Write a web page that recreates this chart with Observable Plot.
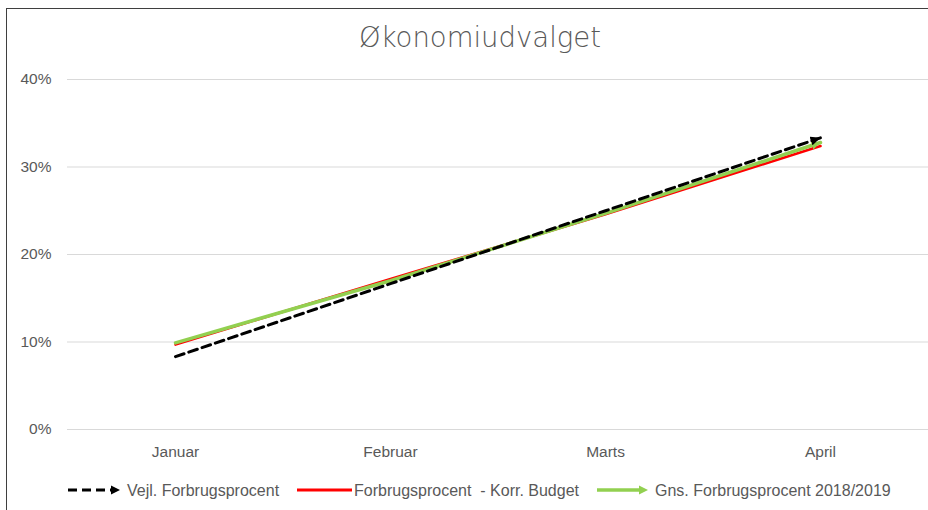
<!DOCTYPE html>
<html>
<head>
<meta charset="utf-8">
<script src="https://cdn.jsdelivr.net/npm/d3@7"></script>
<script src="https://cdn.jsdelivr.net/npm/@observablehq/plot@0.6"></script>
<style>
html, body { margin: 0; padding: 0; background: #fff; width: 928px; height: 510px; overflow: hidden; }
#frame { position: absolute; left: 6px; top: 8px; width: 960px; height: 540px; border: 1.5px solid #3f3f3f; box-sizing: border-box; }
#title { position: absolute; left: 32px; width: 896px; top: 24px; text-align: center;
  font-family: "DejaVu Sans ExtraLight", "DejaVu Sans", sans-serif; font-weight: 200;
  font-size: 27.5px; line-height: 27.5px; color: #595959; white-space: nowrap; }
#chart { position: absolute; left: 0; top: 60px; }
#legend { position: absolute; left: 0; top: 470px; }
</style>
</head>
<body>
<div id="frame"></div>
<div id="title">Økonomiudvalget</div>
<div id="chart"></div>
<svg id="legend" width="928" height="40"></svg>
<script>
// ---- data ----
const months = ["Januar", "Februar", "Marts", "April"];
const vejl = [0.0833, 0.1667, 0.25, 0.3333];   // Vejl. Forbrugsprocent
const korr = [0.097, 0.172, 0.246, 0.324];     // Forbrugsprocent - Korr. Budget
const gns = [0.099, 0.170, 0.247, 0.328];      // Gns. Forbrugsprocent 2018/2019
const seriesNames = ["Vejl. Forbrugsprocent", "Forbrugsprocent  - Korr. Budget", "Gns. Forbrugsprocent 2018/2019"];
const yTicks = [0, 0.1, 0.2, 0.3, 0.4];
const yTickLabels = ["0%", "10%", "20%", "30%", "40%"];

const toRows = (vals) => months.map((m, i) => ({month: m, value: vals[i]}));

function arrowHead(len, wid) {
  return (color, context) => {
    const doc = (context && context.document) || document;
    const m = doc.createElementNS("http://www.w3.org/2000/svg", "marker");
    m.setAttribute("viewBox", `${-len} ${-wid / 2} ${len} ${wid}`);
    m.setAttribute("markerWidth", len);
    m.setAttribute("markerHeight", wid);
    m.setAttribute("markerUnits", "userSpaceOnUse");
    m.setAttribute("orient", "auto");
    m.setAttribute("refX", 0);
    m.setAttribute("refY", 0);
    const p = doc.createElementNS("http://www.w3.org/2000/svg", "path");
    p.setAttribute("d", `M${-len},${-wid / 2}L0,0L${-len},${wid / 2}Z`);
    p.setAttribute("fill", color);
    p.setAttribute("stroke", "none");
    p.setAttribute("stroke-dasharray", "none");
    m.appendChild(p);
    return m;
  };
}

const chart = Plot.plot({
  width: 928,
  height: 409,
  marginTop: 19,
  marginBottom: 40,
  marginLeft: 67,
  marginRight: 0,
  style: {fontFamily: "'Liberation Sans', Arial, sans-serif", fontSize: "15.5px", color: "#595959", background: "transparent", overflow: "visible"},
  x: {type: "point", domain: months, padding: 0.5, label: null, tickSize: 0, tickPadding: 16},
  y: {domain: [0, 0.4], ticks: yTicks, tickFormat: (d) => yTickLabels[yTicks.indexOf(d)], label: null, tickSize: 0, tickPadding: 16},
  marks: [
    Plot.ruleY(yTicks, {stroke: "#d9d9d9", strokeWidth: 1}),
    Plot.line(toRows(korr), {x: "month", y: "value", stroke: "#ff0000", strokeWidth: 2.5}),
    Plot.line(toRows(gns), {x: "month", y: "value", stroke: "#92d050", strokeWidth: 3.5, markerEnd: arrowHead(9, 9)}),
    Plot.line(toRows(vejl), {x: "month", y: "value", stroke: "#000000", strokeWidth: 3, strokeDasharray: "9,5", markerEnd: arrowHead(10, 9)})
  ]
});
document.getElementById("chart").appendChild(chart);

// ---- legend ----
const lg = d3.select("#legend");
const ly = 20;
const items = [
  {x0: 68, x1: 120, tx: 127, color: "#000", w: 3, dash: "9,5", arrow: true},
  {x0: 297, x1: 352, tx: 354, color: "#ff0000", w: 3, dash: null, arrow: false},
  {x0: 597, x1: 648, tx: 655, color: "#92d050", w: 3.5, dash: null, arrow: true}
];
items.forEach((it, i) => {
  const lineEnd = it.arrow ? it.x1 - 8 : it.x1;
  lg.append("line").attr("x1", it.x0).attr("x2", lineEnd).attr("y1", ly).attr("y2", ly)
    .attr("stroke", it.color).attr("stroke-width", it.w).attr("stroke-dasharray", it.dash);
  if (it.arrow) {
    lg.append("path").attr("d", `M${it.x1 - 9},${ly - 4.5}L${it.x1},${ly}L${it.x1 - 9},${ly + 4.5}Z`).attr("fill", it.color);
  }
  lg.append("text").attr("x", it.tx).attr("y", ly + 6).attr("fill", "#595959")
    .attr("font-family", "'Liberation Sans', Arial, sans-serif").attr("font-size", "16px")
    .attr("xml:space", "preserve").style("white-space", "pre").text(seriesNames[i]);
});
</script>
</body>
</html>
